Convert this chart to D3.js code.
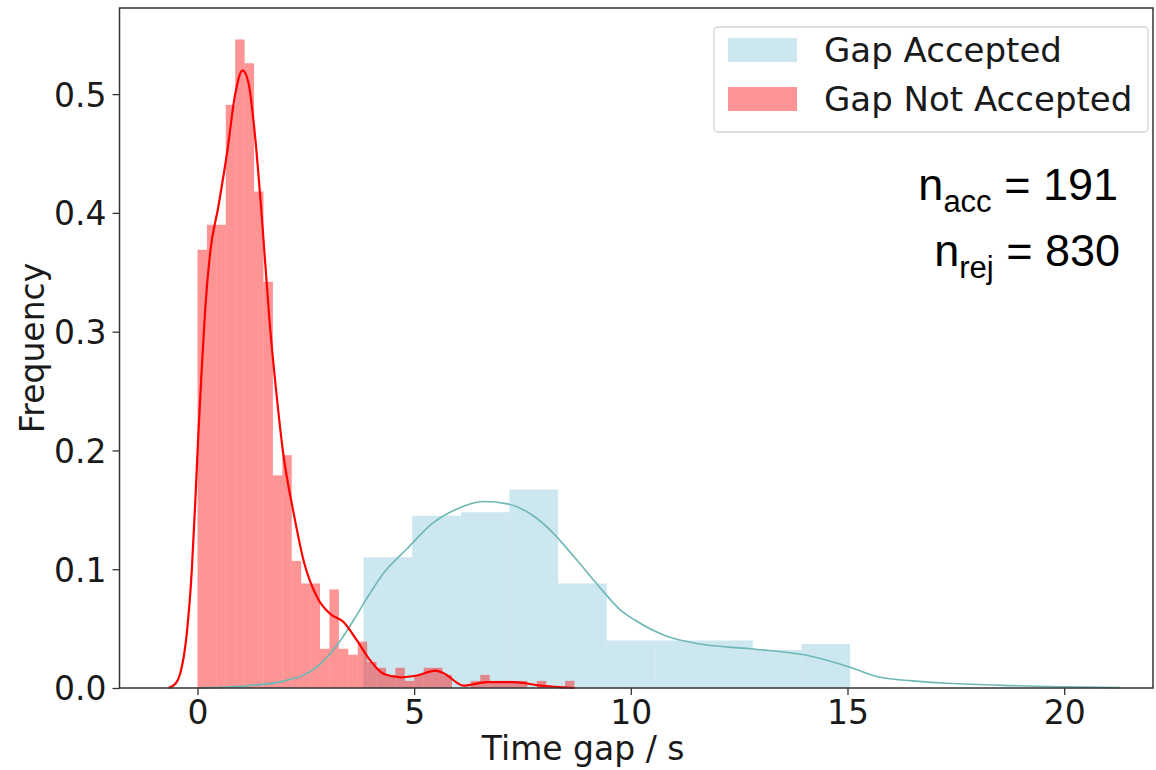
<!DOCTYPE html>
<html lang="en">
<head>
	<meta charset="utf-8">
	<title>Time gap histogram</title>
	<script src="https://d3js.org/d3.v7.min.js"></script>
	<style type="text/css">
		body { margin: 0; background: #fff; }
		text { font-family: "DejaVu Sans", sans-serif; fill: #1a1a1a; }
		.note { font-family: "Liberation Sans", Arial, sans-serif; fill: #000; }
	</style>
</head>
<body>
<script type="text/javascript">

	// Series names and tick labels
	var seriesNames = ["Gap Accepted", "Gap Not Accepted"];
	var xTicks = [0, 5, 10, 15, 20];
	var yTicks = [0.0, 0.1, 0.2, 0.3, 0.4, 0.5];

	// Gap accepted histogram: 10 bins from 3.83 s to 15.06 s
	var accBinStart = 3.83;
	var accBinWidth = 1.123;
	var accHeights = [0.110, 0.145, 0.148, 0.167, 0.088, 0.040, 0.040, 0.040, 0.032, 0.037];

	// Gap not accepted histogram: 40 bins from 0 s
	var rejBinStart = 0;
	var rejBinWidth = 0.2175;
	var rejHeights = [0.369, 0.390, 0.390, 0.491, 0.546, 0.526, 0.418, 0.342, 0.179, 0.196,
	                  0.107, 0.088, 0.088, 0.033, 0.083, 0.033, 0.028, 0.039, 0.022, 0.017,
	                  0.011, 0.017, 0.006, 0.011, 0.017, 0.017, 0.011, 0.000, 0.000, 0.006,
	                  0.011, 0.006, 0.006, 0.006, 0.006, 0.000, 0.006, 0.000, 0.000, 0.006];

	// KDE curves, [time gap, density]
	var accKde = [[0, 0], [1.2, 0.002], [2.0, 0.006], [2.75, 0.0175], [3.3, 0.04], [3.6, 0.057],
	              [3.9, 0.075], [4.3, 0.097], [4.83, 0.117], [5.4, 0.138], [6.0, 0.151], [6.6, 0.157],
	              [7.15, 0.155], [7.75, 0.145], [8.22, 0.13], [8.7, 0.11], [9.3, 0.084], [9.75, 0.066],
	              [10.1, 0.057], [10.8, 0.044], [11.6, 0.037], [12.76, 0.033], [14.06, 0.0275],
	              [15.06, 0.0175], [15.75, 0.009], [16.5, 0.006], [17.3, 0.004], [18.8, 0.002],
	              [20, 0.001], [21.3, 0.0003]];
	var rejKde = [[-0.67, 0], [-0.5, 0.004], [-0.4, 0.012], [-0.25, 0.045], [-0.13, 0.10], [-0.05, 0.158],
	              [0.02, 0.214], [0.1, 0.27], [0.18, 0.32], [0.29, 0.366], [0.48, 0.405], [0.68, 0.45],
	              [0.87, 0.5], [1.04, 0.52], [1.18, 0.509], [1.33, 0.464], [1.49, 0.394], [1.66, 0.31],
	              [1.83, 0.245], [1.98, 0.197], [2.22, 0.147], [2.45, 0.107], [2.76, 0.0765], [3.06, 0.0625],
	              [3.37, 0.0555], [3.68, 0.04], [3.99, 0.023], [4.29, 0.012], [4.68, 0.009], [5.06, 0.0105],
	              [5.49, 0.0147], [5.7, 0.012], [6.14, 0.002], [6.68, 0.005], [7.29, 0.005], [7.91, 0.002],
	              [8.7, 0.0]];

	// Sample counts
	var nAcc = 191;
	var nRej = 830;

	// Define margins
	var margin = {top: 8, right: 3, bottom: 82, left: 119.5};
	var outer_width = 1156;
	var outer_height = 770;
	var width = outer_width - margin.left - margin.right;
	var height = outer_height - margin.top - margin.bottom;

	var svg = d3.select("body")
		.append("svg")
		.attr("width", outer_width)
		.attr("height", outer_height);

	var g = svg.append("g")
		.attr("transform", "translate(" + margin.left + "," + margin.top + ")");

	// Scales
	var xScale = d3.scaleLinear().domain([-1.8, 22.05]).range([0, width]);
	var yScale = d3.scaleLinear().domain([0, 0.5725]).range([height, 0]);

	// Helper to turn heights into bins
	function makeBins(start, w, heights) {
		return heights.map(function(h, i) {
			return {x0: start + i * w, x1: start + (i + 1) * w, h: h};
		});
	}

	// Gap accepted bars
	g.selectAll("rect.acc")
		.data(makeBins(accBinStart, accBinWidth, accHeights))
		.enter().append("rect")
		.attr("class", "acc")
		.attr("x", function(d) { return xScale(d.x0); })
		.attr("width", function(d) { return xScale(d.x1) - xScale(d.x0); })
		.attr("y", function(d) { return yScale(d.h); })
		.attr("height", function(d) { return height - yScale(d.h); })
		.style("fill", "#add8e6")
		.style("fill-opacity", 0.62);

	// Gap not accepted bars
	g.selectAll("rect.rej")
		.data(makeBins(rejBinStart, rejBinWidth, rejHeights))
		.enter().append("rect")
		.attr("class", "rej")
		.attr("x", function(d) { return xScale(d.x0); })
		.attr("width", function(d) { return xScale(d.x1) - xScale(d.x0); })
		.attr("y", function(d) { return yScale(d.h); })
		.attr("height", function(d) { return height - yScale(d.h); })
		.style("fill", "#ff0000")
		.style("fill-opacity", 0.42);

	// KDE lines
	var line = d3.line()
		.x(function(d) { return xScale(d[0]); })
		.y(function(d) { return yScale(d[1]); })
		.curve(d3.curveMonotoneX);

	g.append("path")
		.datum(accKde)
		.attr("d", line)
		.style("fill", "none")
		.style("stroke", "#6db8b6")
		.style("stroke-width", 1.6);

	g.append("path")
		.datum(rejKde)
		.attr("d", line)
		.style("fill", "none")
		.style("stroke", "#ff0000")
		.style("stroke-width", 2.2);

	// Axes
	var xAxis = d3.axisBottom(xScale).tickValues(xTicks).tickSize(7).tickPadding(6)
		.tickFormat(d3.format("d"));
	var yAxis = d3.axisLeft(yScale).tickValues(yTicks).tickSize(7).tickPadding(6)
		.tickFormat(d3.format(".1f"));

	var gx = g.append("g")
		.attr("transform", "translate(0," + height + ")")
		.call(xAxis);
	var gy = g.append("g").call(yAxis);

	[gx, gy].forEach(function(a) {
		a.select(".domain").remove();
		a.selectAll("line").style("stroke", "#333").style("stroke-width", 1.3);
		a.selectAll("text").style("font-size", "33px").style("fill", "#1a1a1a");
	});
	gy.selectAll("text").attr("dy", "0.36em");

	// Frame
	g.append("rect")
		.attr("width", width)
		.attr("height", height)
		.style("fill", "none")
		.style("stroke", "#333")
		.style("stroke-width", 1.5);

	// Axis labels
	svg.append("text")
		.attr("x", margin.left + xScale(8.9))
		.attr("y", 760)
		.attr("text-anchor", "middle")
		.style("font-size", "33px")
		.text("Time gap / s");

	svg.append("text")
		.attr("transform", "translate(44," + (margin.top + height / 2) + ") rotate(-90)")
		.attr("text-anchor", "middle")
		.style("font-size", "33px")
		.text("Frequency");

	// Legend
	var legend = svg.append("g").attr("transform", "translate(714,27)");
	legend.append("rect")
		.attr("width", 434)
		.attr("height", 105)
		.attr("rx", 4)
		.style("fill", "#fff")
		.style("fill-opacity", 0.8)
		.style("stroke", "#d4d4d4")
		.style("stroke-width", 1.3);

	var legendColors = [["#add8e6", 0.62], ["#ff0000", 0.42]];
	seriesNames.forEach(function(name, i) {
		legend.append("rect")
			.attr("x", 14)
			.attr("y", 11 + i * 49)
			.attr("width", 69)
			.attr("height", 24)
			.style("fill", legendColors[i][0])
			.style("fill-opacity", legendColors[i][1]);
		legend.append("text")
			.attr("x", 110)
			.attr("y", 35 + i * 49)
			.style("font-size", "34px")
			.text(name);
	});

	// Sample count notes
	var note1 = svg.append("text").attr("class", "note")
		.attr("x", 1118).attr("y", 200).attr("text-anchor", "end")
		.style("font-size", "45px");
	note1.append("tspan").text("n");
	note1.append("tspan").attr("dy", 12).style("font-size", "31px").text("acc");
	note1.append("tspan").attr("dy", -12).text(" = " + nAcc);

	var note2 = svg.append("text").attr("class", "note")
		.attr("x", 1120).attr("y", 266).attr("text-anchor", "end")
		.style("font-size", "45px");
	note2.append("tspan").text("n");
	note2.append("tspan").attr("dy", 12).style("font-size", "31px").text("rej");
	note2.append("tspan").attr("dy", -12).text(" = " + nRej);

</script>
</body>
</html>
